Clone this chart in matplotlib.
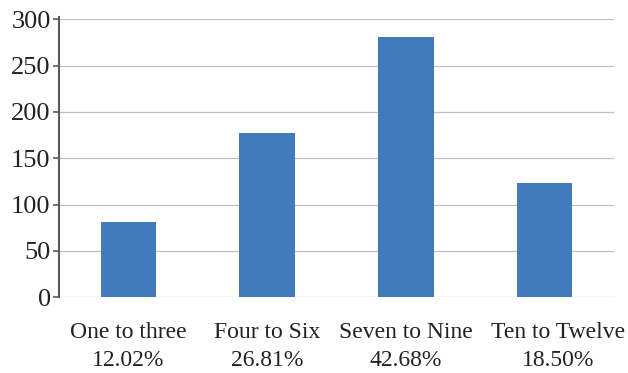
import matplotlib
matplotlib.use("Agg")
import matplotlib.pyplot as plt
from matplotlib.transforms import ScaledTranslation

# Group sizes by age band
categories = ["One to three", "Four to Six", "Seven to Nine", "Ten to Twelve"]
shares = ["12.02%", "26.81%", "42.68%", "18.50%"]
counts = [81, 177, 281, 123]
yticks = [0, 50, 100, 150, 200, 250, 300]

plt.rcParams["font.family"] = ["Liberation Serif", "DejaVu Serif"]

fig = plt.figure(figsize=(6.28, 3.73), dpi=100)
ax = fig.add_axes([59 / 628, 75.7 / 373, 555 / 628, 278 / 373])

x = list(range(len(categories)))
ax.bar(x, counts, width=0.4, color="#417bbe", zorder=3)

ax.set_xlim(-0.5, len(categories) - 0.5)
ax.set_ylim(0, 300)
ax.set_yticks(yticks)
ax.set_yticklabels([str(v) for v in yticks], fontsize=19, color="#222222")
ax.yaxis.grid(True, color="#c0c0c0", linewidth=0.9, zorder=0)
ax.set_axisbelow(True)

ax.set_xticks(x)
labels = ax.set_xticklabels([f"{c}\n{s}" for c, s in zip(categories, shares)],
                            fontsize=17, color="#222222", linespacing=1.42)
ax.tick_params(axis="x", length=0, pad=18)
ax.tick_params(axis="y", length=4, width=1.2, color="#595959", pad=2)

# the last label sits a little to the right, clear of its neighbour
labels[-1].set_transform(labels[-1].get_transform()
                         + ScaledTranslation(13 / 100, 0, fig.dpi_scale_trans))

for side in ("top", "right", "bottom"):
    ax.spines[side].set_visible(False)
ax.spines["left"].set_color("#595959")
ax.spines["left"].set_linewidth(1.5)
ax.spines["left"].set_bounds(0, 302)

fig.savefig("out.png", dpi=100)
